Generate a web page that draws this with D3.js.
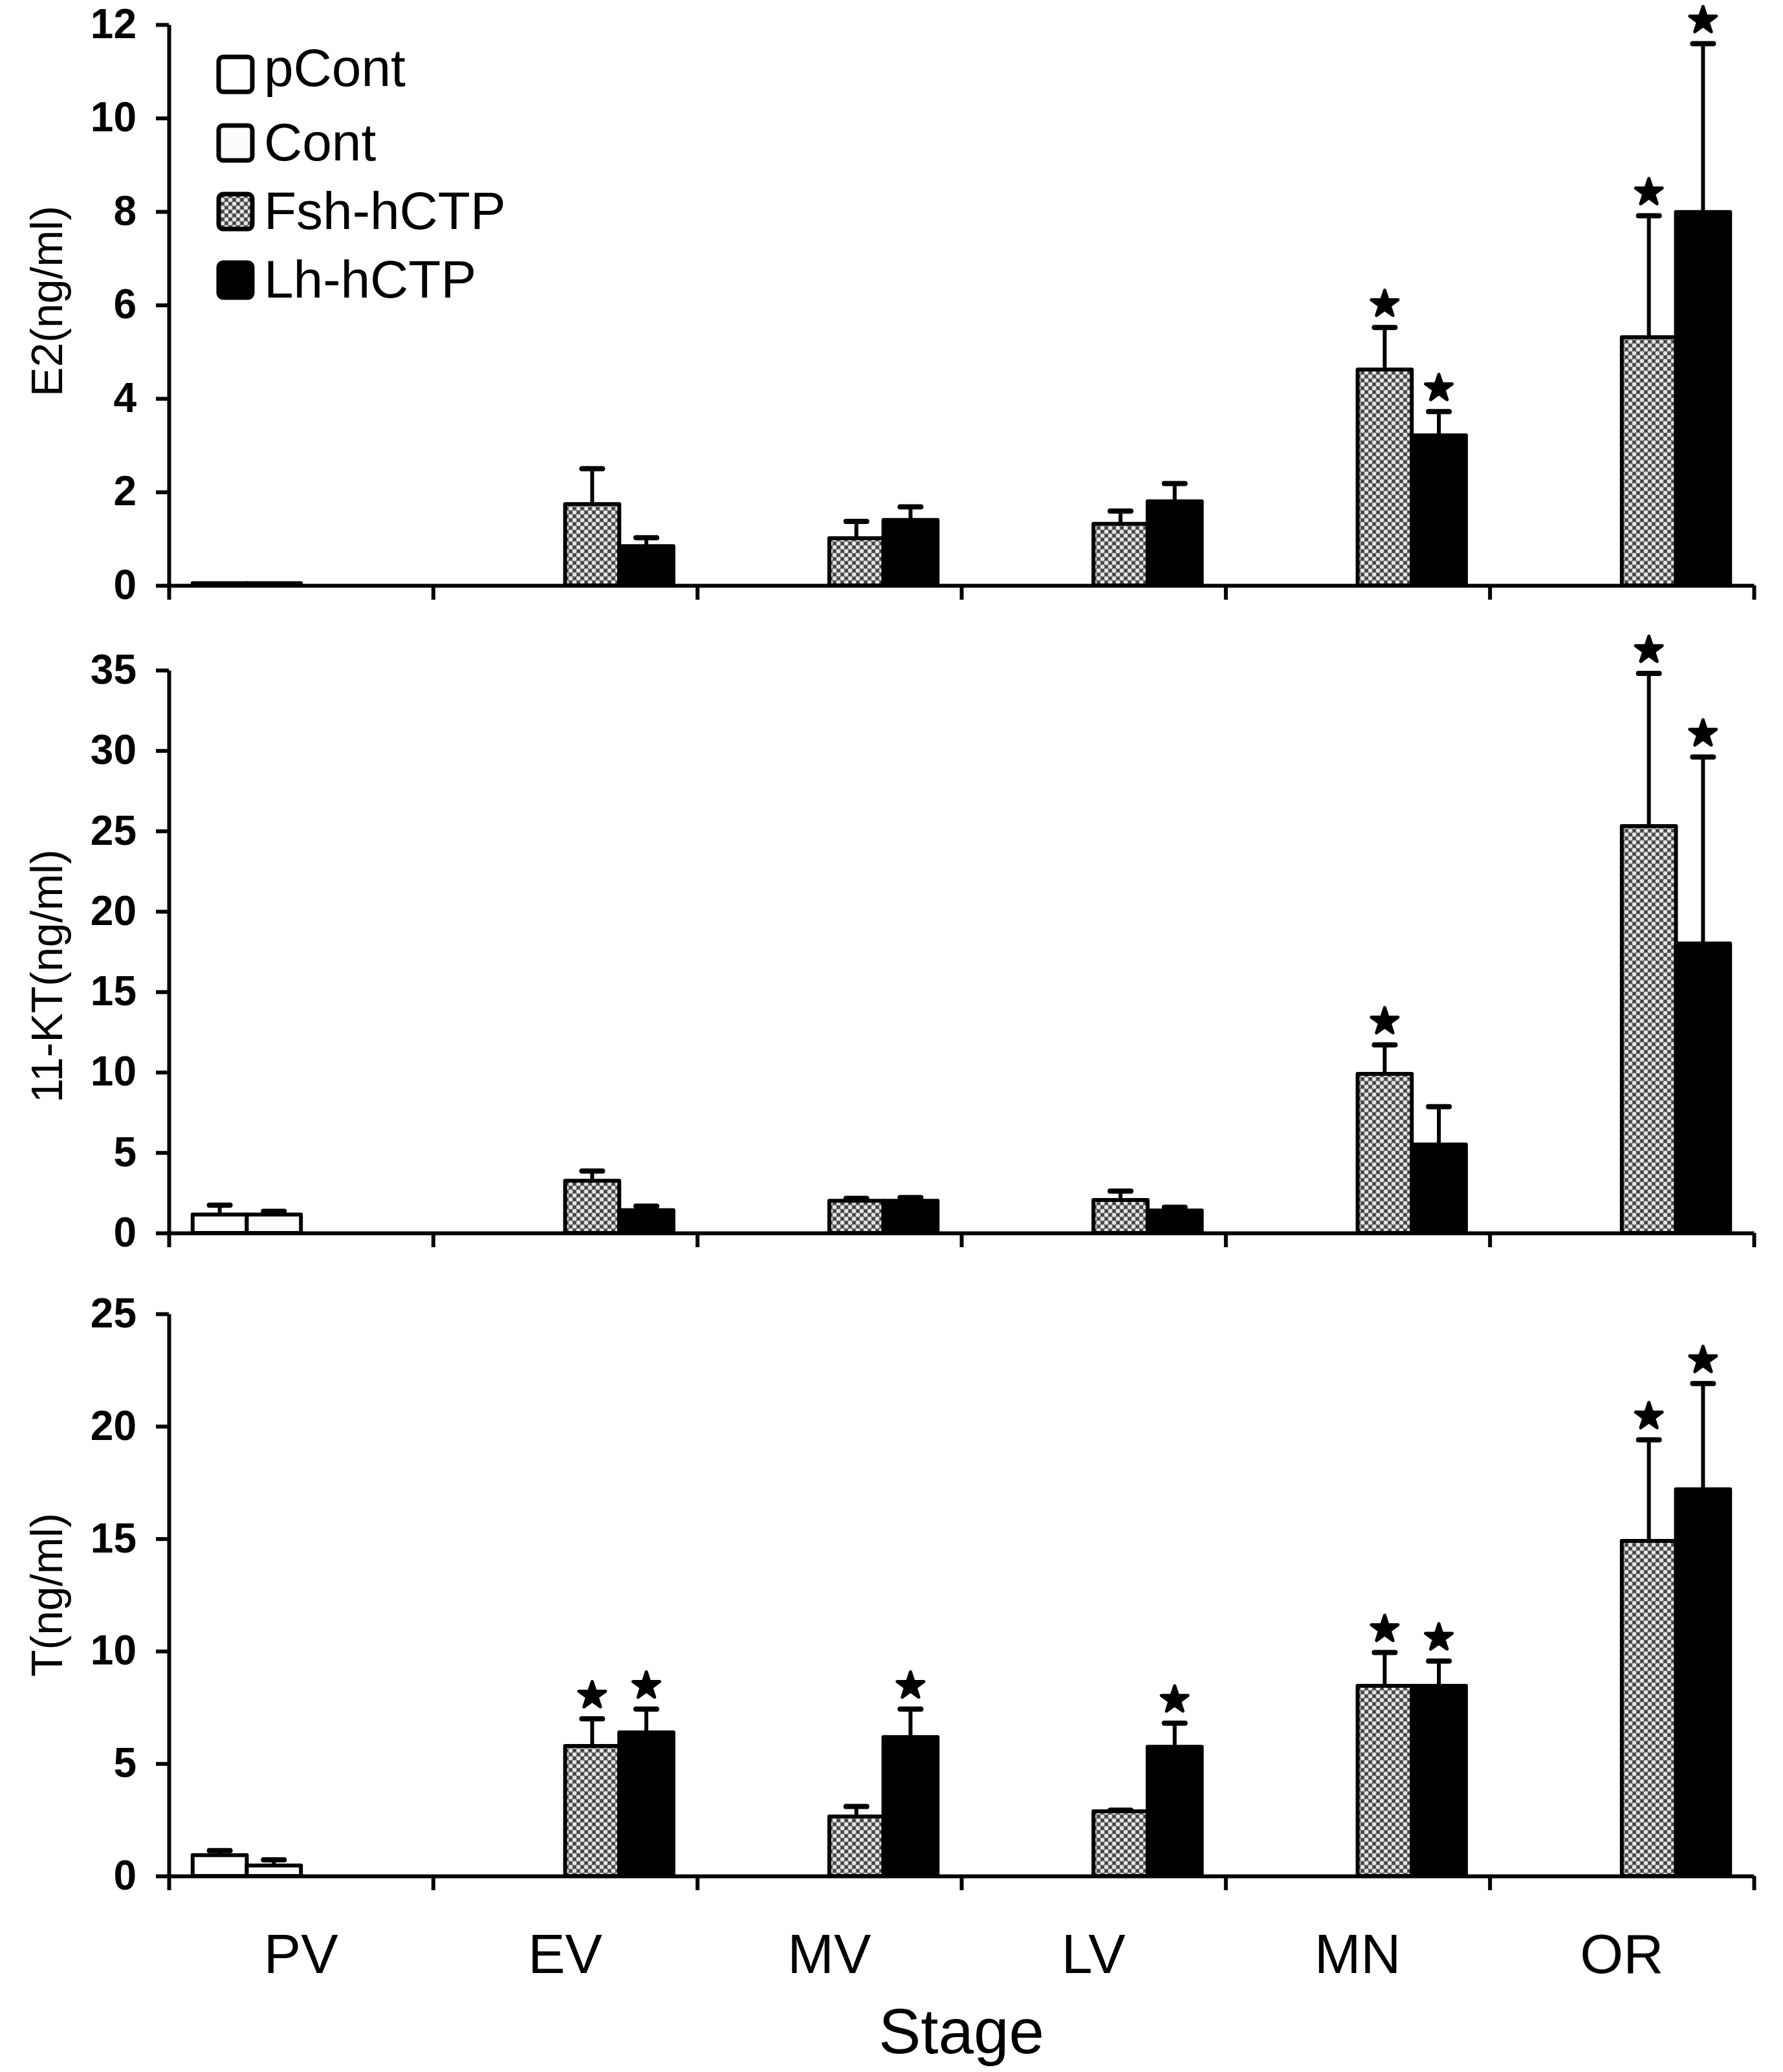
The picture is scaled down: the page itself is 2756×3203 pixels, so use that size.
<!DOCTYPE html>
<html>
<head>
<meta charset="utf-8">
<script src="https://cdn.jsdelivr.net/npm/d3@7"></script>
<style>
  html, body { margin: 0; padding: 0; background: #fff; }
  svg { display: block; font-family: "Liberation Sans", Arial, sans-serif; }
</style>
</head>
<body>
<svg id="chart" width="2756" height="3203"></svg>
<script>
const width = 2756;
const height = 3203;

// Data
const stages = ["PV", "EV", "MV", "LV", "MN", "OR"];
const series = ["pCont", "Cont", "Fsh-hCTP", "Lh-hCTP"];

// E2 (ng/ml): mean and SE per series, one entry per stage (null = not measured)
const e2Mean = {
    "pCont":    [0.05, null, null, null, null, null],
    "Cont":     [0.05, null, null, null, null, null],
    "Fsh-hCTP": [null, 1.74, 1.01, 1.32, 4.62, 5.31],
    "Lh-hCTP":  [null, 0.84, 1.40, 1.80, 3.21, 7.99]
};
const e2Se = {
    "pCont":    [0, null, null, null, null, null],
    "Cont":     [0, null, null, null, null, null],
    "Fsh-hCTP": [null, 0.76, 0.36, 0.27, 0.90, 2.60],
    "Lh-hCTP":  [null, 0.18, 0.28, 0.38, 0.51, 3.60]
};
const e2Stars = [["MN", "Fsh-hCTP"], ["MN", "Lh-hCTP"], ["OR", "Fsh-hCTP"], ["OR", "Lh-hCTP"]];

// 11-KT (ng/ml)
const ktMean = {
    "pCont":    [1.15, null, null, null, null, null],
    "Cont":     [1.15, null, null, null, null, null],
    "Fsh-hCTP": [null, 3.25, 2.0, 2.05, 9.9, 25.3],
    "Lh-hCTP":  [null, 1.42, 2.0, 1.40, 5.5, 18.0]
};
const ktSe = {
    "pCont":    [0.58, null, null, null, null, null],
    "Cont":     [0.2, null, null, null, null, null],
    "Fsh-hCTP": [null, 0.6, 0.15, 0.55, 1.8, 9.5],
    "Lh-hCTP":  [null, 0.25, 0.2, 0.2, 2.35, 11.6]
};
const ktStars = [["MN", "Fsh-hCTP"], ["OR", "Fsh-hCTP"], ["OR", "Lh-hCTP"]];

// T (ng/ml)
const tMean = {
    "pCont":    [0.93, null, null, null, null, null],
    "Cont":     [0.47, null, null, null, null, null],
    "Fsh-hCTP": [null, 5.78, 2.65, 2.88, 8.46, 14.9],
    "Lh-hCTP":  [null, 6.39, 6.18, 5.75, 8.46, 17.2]
};
const tSe = {
    "pCont":    [0.2, null, null, null, null, null],
    "Cont":     [0.25, null, null, null, null, null],
    "Fsh-hCTP": [null, 1.21, 0.44, 0.05, 1.48, 4.5],
    "Lh-hCTP":  [null, 1.03, 1.24, 1.05, 1.1, 4.7]
};
const tStars = [["EV", "Fsh-hCTP"], ["EV", "Lh-hCTP"], ["MV", "Lh-hCTP"], ["LV", "Lh-hCTP"],
                ["MN", "Fsh-hCTP"], ["MN", "Lh-hCTP"], ["OR", "Fsh-hCTP"], ["OR", "Lh-hCTP"]];

const e2Ticks = [0, 2, 4, 6, 8, 10, 12];
const ktTicks = [0, 5, 10, 15, 20, 25, 30, 35];
const tTicks = [0, 5, 10, 15, 20, 25];

const panels = [
    { label: "E2(ng/ml)",    mean: e2Mean, se: e2Se, stars: e2Stars, ticks: e2Ticks, top: 38,   bottom: 905,  labelShift: -6 },
    { label: "11-KT(ng/ml)", mean: ktMean, se: ktSe, stars: ktStars, ticks: ktTicks, top: 1036, bottom: 1906, labelShift: 38 },
    { label: "T(ng/ml)",     mean: tMean,  se: tSe,  stars: tStars,  ticks: tTicks,  top: 2031, bottom: 2900, labelShift: 0 }
];

const left = 261;
const right = 2711;
const lw = 6;

const svg = d3.select("#chart");

// Fsh-hCTP checker pattern
const defs = svg.append("defs");
const pat = defs.append("pattern")
    .attr("id", "fsh")
    .attr("patternUnits", "userSpaceOnUse")
    .attr("width", 12)
    .attr("height", 12);
pat.append("rect").attr("width", 12).attr("height", 12).attr("fill", "#7a7a7a");
[[0, 0], [12, 0], [0, 12], [12, 12], [6, 6]].forEach(([cx, cy]) =>
    pat.append("circle").attr("cx", cx).attr("cy", cy).attr("r", 3.1).attr("fill", "#e6e6e6"));
[[6, 0], [0, 6], [12, 6], [6, 12]].forEach(([cx, cy]) =>
    pat.append("circle").attr("cx", cx).attr("cy", cy).attr("r", 2.6).attr("fill", "#444"));

const fills = {
    "pCont": "#ffffff",
    "Cont": "#fbfbfb",
    "Fsh-hCTP": "url(#fsh)",
    "Lh-hCTP": "#000000"
};

const x0 = d3.scaleBand()
    .domain(stages)
    .range([left, right])
    .paddingInner(0.18)
    .paddingOuter(0.09);

const x1 = d3.scaleBand()
    .domain(series)
    .range([0, x0.bandwidth()]);

// boundary ticks on the category axis
const xEdge = d3.scaleLinear().domain([0, stages.length]).range([left, right]);

const star = d3.symbol().type(d3.symbolStar).size(520);

function drawPanel(p) {
    const y = d3.scaleLinear()
        .domain([0, d3.max(p.ticks)])
        .range([p.bottom, p.top]);

    const g = svg.append("g");

    const rows = [];
    series.forEach(s => {
        stages.forEach((st, i) => {
            const v = p.mean[s][i];
            if (v == null) return;
            rows.push({ stage: st, series: s, value: v, se: p.se[s][i] || 0 });
        });
    });

    // error bars (upper only)
    const eb = g.append("g")
        .attr("stroke", "#000")
        .attr("stroke-width", lw);
    rows.filter(d => d.se > 0).forEach(d => {
        const cx = x0(d.stage) + x1(d.series) + x1.bandwidth() / 2;
        eb.append("line")
            .attr("x1", cx).attr("x2", cx)
            .attr("y1", y(d.value)).attr("y2", y(d.value + d.se));
        eb.append("line")
            .attr("x1", cx - 16).attr("x2", cx + 16)
            .attr("y1", y(d.value + d.se)).attr("y2", y(d.value + d.se))
            .attr("stroke-width", 8)
            .attr("stroke-linecap", "round");
    });

    // bars
    g.append("g")
        .selectAll("rect")
        .data(rows)
        .join("rect")
        .attr("x", d => x0(d.stage) + x1(d.series))
        .attr("y", d => y(d.value))
        .attr("width", x1.bandwidth())
        .attr("height", d => y(0) - y(d.value))
        .attr("fill", d => fills[d.series])
        .attr("stroke", "#000")
        .attr("stroke-width", lw)
        .attr("stroke-linejoin", "round");

    // significance stars
    g.append("g")
        .selectAll("path")
        .data(p.stars)
        .join("path")
        .attr("d", star)
        .attr("fill", "#000")
        .attr("stroke", "#000")
        .attr("stroke-width", 5)
        .attr("stroke-linejoin", "round")
        .attr("transform", ([st, s]) => {
            const i = stages.indexOf(st);
            const top = p.mean[s][i] + (p.se[s][i] || 0);
            const cx = x0(st) + x1(s) + x1.bandwidth() / 2;
            return `translate(${cx},${y(top) - 36})`;
        });

    // y axis
    const ya = g.append("g")
        .attr("transform", `translate(${left},0)`)
        .call(d3.axisLeft(y)
            .tickValues(p.ticks)
            .tickSize(20)
            .tickSizeOuter(0)
            .tickPadding(30)
            .tickFormat(d3.format("d")));
    ya.select(".domain").attr("stroke-width", lw);
    ya.selectAll(".tick line").attr("stroke-width", lw);
    ya.selectAll(".tick text")
        .attr("font-size", 64)
        .attr("font-weight", "bold")
        .attr("font-family", "'Liberation Sans', Arial, sans-serif")
        .attr("fill", "#000");

    // x axis with ticks at category boundaries
    const xa = g.append("g")
        .attr("transform", `translate(0,${p.bottom})`)
        .call(d3.axisBottom(xEdge)
            .tickValues(d3.range(stages.length + 1))
            .tickSize(22)
            .tickSizeOuter(0)
            .tickFormat(""));
    xa.select(".domain").attr("stroke-width", lw);
    xa.selectAll(".tick line").attr("stroke-width", lw);

    // y title
    g.append("text")
        .attr("transform", `translate(96,${(p.top + p.bottom) / 2 + p.labelShift}) rotate(-90)`)
        .attr("text-anchor", "middle")
        .attr("font-size", 68)
        .attr("fill", "#000")
        .text(p.label);

    return y;
}

panels.forEach(drawPanel);

// category labels and axis title
svg.append("g")
    .selectAll("text")
    .data(stages)
    .join("text")
    .attr("x", d => x0(d) + x0.bandwidth() / 2)
    .attr("y", 3050)
    .attr("text-anchor", "middle")
    .attr("font-size", 86)
    .attr("fill", "#000")
    .text(d => d);

svg.append("text")
    .attr("x", (left + right) / 2)
    .attr("y", 3174)
    .attr("text-anchor", "middle")
    .attr("font-size", 98)
    .attr("fill", "#000")
    .text("Stage");

// legend
const legend = svg.append("g").attr("transform", "translate(338,115)");
const lg = legend.selectAll("g")
    .data(series)
    .join("g")
    .attr("transform", (d, i) => `translate(0,${i * 106})`);
lg.append("rect")
    .attr("x", 0)
    .attr("y", -27)
    .attr("width", 52)
    .attr("height", 54)
    .attr("rx", 7)
    .attr("fill", d => fills[d])
    .attr("stroke", "#000")
    .attr("stroke-width", 7);
lg.append("text")
    .attr("x", 70)
    .attr("y", (d, i) => i === 0 ? 18 : 27)
    .attr("font-size", 82)
    .attr("fill", "#000")
    .text(d => d);
</script>
</body>
</html>
